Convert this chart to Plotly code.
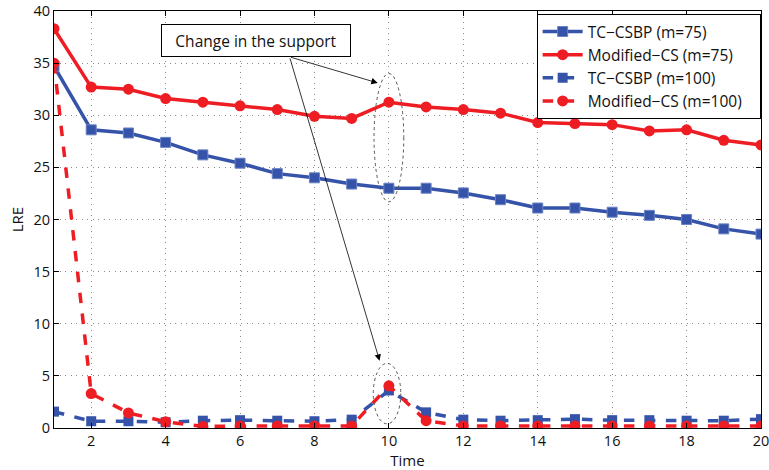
import plotly.graph_objects as go

time = list(range(1, 21))
tc_m75 = [34.7, 28.6, 28.3, 27.4, 26.2, 25.4, 24.4, 24.0, 23.4, 23.0,
          23.0, 22.55, 21.9, 21.1, 21.1, 20.7, 20.4, 20.0, 19.1, 18.6]
mcs_m75 = [38.3, 32.7, 32.5, 31.6, 31.25, 30.9, 30.55, 29.9, 29.7, 31.25,
           30.8, 30.55, 30.2, 29.3, 29.2, 29.1, 28.5, 28.6, 27.6, 27.15]
tc_m100 = [1.57, 0.65, 0.65, 0.55, 0.7, 0.75, 0.7, 0.65, 0.8, 3.6,
           1.5, 0.8, 0.7, 0.75, 0.85, 0.75, 0.75, 0.7, 0.7, 0.85]
mcs_m100 = [35.0, 3.3, 1.45, 0.6, 0.15, 0.2, 0.2, 0.2, 0.2, 4.05,
            0.7, 0.2, 0.2, 0.2, 0.2, 0.2, 0.2, 0.2, 0.2, 0.2]
x_ticks = list(range(2, 21, 2))
y_ticks = list(range(0, 41, 5))

BLUE = "#3553A8"
RED = "#EE1D24"
FONT = "Open Sans"
TXT = "#111111"
PAD = "\u00a0\u00a0\u00a0"  # extra right padding inside the legend box

fig = go.Figure()
fig.add_trace(go.Scatter(x=time, y=tc_m75, name="TC\u2212CSBP (m=75)" + PAD, mode="lines+markers",
                         line=dict(color=BLUE, width=3.5),
                         marker=dict(symbol="square", size=10, color=BLUE,
                                     line=dict(color="#6a82c4", width=1))))
fig.add_trace(go.Scatter(x=time, y=mcs_m75, name="Modified\u2212CS (m=75)" + PAD, mode="lines+markers",
                         line=dict(color=RED, width=3.5),
                         marker=dict(symbol="circle", size=11, color=RED)))
fig.add_trace(go.Scatter(x=time, y=tc_m100, name="TC\u2212CSBP (m=100)" + PAD, mode="lines+markers",
                         line=dict(color=BLUE, width=3.5, dash="dash"),
                         marker=dict(symbol="square", size=10, color=BLUE)))
fig.add_trace(go.Scatter(x=time, y=mcs_m100, name="Modified\u2212CS (m=100)" + PAD, mode="lines+markers",
                         line=dict(color=RED, width=3.5, dash="dash"),
                         marker=dict(symbol="circle", size=11, color=RED)))

# dotted ellipses around the support change
fig.add_shape(type="circle", xref="x", yref="y", x0=9.6, x1=10.4, y0=21.7, y1=34.0,
              line=dict(color="#555555", width=1, dash="dot"))
fig.add_shape(type="circle", xref="x", yref="y", x0=9.58, x1=10.32, y0=0.4, y1=6.2,
              line=dict(color="#555555", width=1, dash="dot"))

# arrows
for hx, hy in [(9.7, 33.1), (9.75, 6.45)]:
    fig.add_annotation(x=hx, y=hy, ax=7.33, ay=35.6, xref="x", yref="y", axref="x", ayref="y",
                       text="", showarrow=True, arrowhead=2, arrowsize=1.6, arrowwidth=0.8,
                       arrowcolor="black")

fig.add_annotation(x=6.42, y=37.2, xref="x", yref="y", text="Change in the support",
                   showarrow=False, bordercolor="black", borderwidth=1, borderpad=5,
                   width=178, height=21,
                   bgcolor="white", font=dict(family=FONT, size=15.5, color=TXT))

axis_common = dict(showline=True, linecolor="black", linewidth=1, mirror="ticks",
                   ticks="inside", ticklen=5, tickcolor="black",
                   showgrid=True, gridcolor="#8a8a8a", griddash="1px,4.5px", gridwidth=1,
                   zeroline=False, ticklabeloverflow="allow", automargin=False,
                   tickfont=dict(family=FONT, size=14.5, color=TXT))

fig.update_layout(
    width=769, height=470,
    margin=dict(l=54, r=8, t=11, b=42),
    plot_bgcolor="white", paper_bgcolor="white",
    showlegend=True,
    legend=dict(x=0.9995, y=0.993, xanchor="right", yanchor="top",
                bordercolor="black", borderwidth=1, bgcolor="white",
                font=dict(family=FONT, size=15.5, color=TXT),
                tracegroupgap=0, itemwidth=40),
    xaxis=dict(range=[1, 20], tickvals=x_ticks,
               title=dict(text="Time", font=dict(family=FONT, size=15, color=TXT), standoff=0),
               **axis_common),
    yaxis=dict(range=[0, 40], tickvals=y_ticks,
               title=dict(text="LRE", font=dict(family=FONT, size=15, color=TXT), standoff=6),
               **axis_common),
)

fig.write_html("out.html")
